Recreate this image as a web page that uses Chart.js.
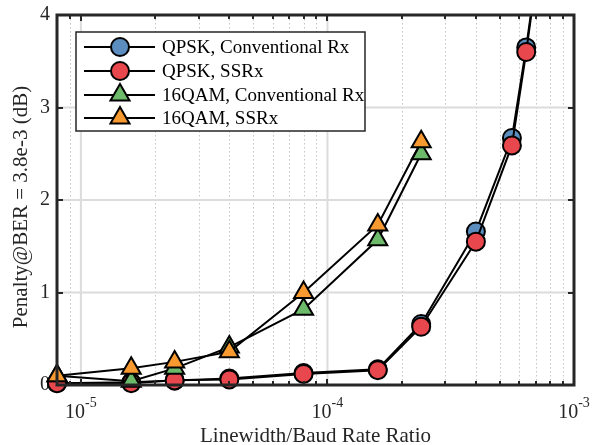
<!DOCTYPE html>
<html>
<head>
<meta charset="utf-8">
<script src="https://cdn.jsdelivr.net/npm/chart.js@4"></script>
<style>
  html, body { margin: 0; padding: 0; background: #fff; }
  #wrap { width: 601px; height: 445px; }
</style>
</head>
<body>
<div id="wrap"><canvas id="grafico" width="601" height="445"></canvas></div>
<script>
// linewidth / baud rate ratios for each modulation
var ratioQPSK = [8e-6, 1.6e-5, 2.4e-5, 4e-5, 8e-5, 1.6e-4, 2.4e-4, 4e-4, 5.6e-4, 6.4e-4, 8e-4];
var ratio16QAM = [8e-6, 1.6e-5, 2.4e-5, 4e-5, 8e-5, 1.6e-4, 2.4e-4];

// penalty at BER = 3.8e-3, dB
var qpskConv = [0.02, 0.03, 0.05, 0.07, 0.13, 0.17, 0.66, 1.66, 2.67, 3.65, 5.5];
var qpskSsrx = [0.02, 0.02, 0.05, 0.06, 0.12, 0.16, 0.63, 1.55, 2.59, 3.60, 5.5];
var qam16Conv = [0.10, 0.04, 0.18, 0.41, 0.82, 1.57, 2.50];
var qam16Ssrx = [0.10, 0.18, 0.25, 0.36, 1.00, 1.73, 2.63];

var seriesLabels = ["QPSK, Conventional Rx", "QPSK, SSRx", "16QAM, Conventional Rx", "16QAM, SSRx"];
var yTicks = [0, 1, 2, 3, 4];
var xDecades = [1e-5, 1e-4, 1e-3];
var xDecadeExp = ["-5", "-4", "-3"];

var serif = '"Liberation Serif", "Times New Roman", serif';
var ink = "#262626";

function pts(xs, ys) {
  return xs.map(function (x, i) { return { x: x, y: ys[i] }; });
}

function makeSet(label, xs, ys, fill, shape, order) {
  return {
    label: label,
    data: pts(xs, ys),
    borderColor: "#000",
    borderWidth: 2,
    pointStyle: shape,
    pointRadius: shape === "circle" ? 9 : 11,
    pointBackgroundColor: fill,
    pointBorderColor: "#000",
    pointBorderWidth: 2,
    tension: 0,
    order: order,
    clip: { left: 15, top: 0, right: 0, bottom: 15 }
  };
}

// minor/major positions of a log axis
function logGrid(min, max) {
  var out = [];
  for (var e = -7; e <= -2; e++) {
    for (var m = 1; m <= 9; m++) {
      var v = m * Math.pow(10, e);
      if (v > min * 1.0001 && v < max * 0.9999) out.push({ v: v, major: m === 1 });
    }
  }
  return out;
}

function seg(ctx, x1, y1, x2, y2) {
  ctx.beginPath(); ctx.moveTo(x1, y1); ctx.lineTo(x2, y2); ctx.stroke();
}

var axesPlugin = {
  id: "axesFrame",
  beforeDatasetsDraw: function (chart) {
    var ctx = chart.ctx, a = chart.chartArea, xs = chart.scales.x, ys = chart.scales.y;
    ctx.save();

    // dotted minor grid
    ctx.lineWidth = 1;
    ctx.strokeStyle = "#c4c4c4";
    ctx.setLineDash([1.5, 2.5]);
    logGrid(xs.min, xs.max).forEach(function (t) {
      if (t.major) return;
      var px = Math.round(xs.getPixelForValue(t.v)) + 0.5;
      seg(ctx, px, a.top, px, a.bottom);
    });
    ctx.setLineDash([]);

    // solid major grid
    ctx.strokeStyle = "#dcdcdc";
    ctx.lineWidth = 2;
    xDecades.forEach(function (v) {
      var px = xs.getPixelForValue(v);
      if (px > a.left + 2 && px < a.right - 2) seg(ctx, px, a.top, px, a.bottom);
    });
    yTicks.forEach(function (v) {
      var py = ys.getPixelForValue(v);
      if (py > a.top + 2 && py < a.bottom - 2) seg(ctx, a.left, py, a.right, py);
    });

    // tick labels
    ctx.fillStyle = ink;
    ctx.font = "20px " + serif;
    ctx.textAlign = "right";
    ctx.textBaseline = "middle";
    yTicks.forEach(function (v) {
      ctx.fillText(String(v), a.left - 7, ys.getPixelForValue(v));
    });

    ctx.textBaseline = "alphabetic";
    ctx.textAlign = "left";
    xDecades.forEach(function (v, i) {
      var px = xs.getPixelForValue(v);
      ctx.font = "20px " + serif;
      var wBase = ctx.measureText("10").width;
      ctx.font = "14px " + serif;
      var wExp = ctx.measureText(xDecadeExp[i]).width;
      var x0 = px - (wBase + wExp) / 2;
      ctx.font = "20px " + serif;
      ctx.fillText("10", x0, a.bottom + 33);
      ctx.font = "14px " + serif;
      ctx.fillText(xDecadeExp[i], x0 + wBase, a.bottom + 22);
    });

    // axis titles
    ctx.font = "21px " + serif;
    ctx.textAlign = "center";
    ctx.fillText("Linewidth/Baud Rate Ratio", (a.left + a.right) / 2, 442);
    ctx.save();
    ctx.translate(21, (a.top + a.bottom) / 2 + 7);
    ctx.rotate(-Math.PI / 2);
    ctx.textBaseline = "middle";
    ctx.fillText("Penalty@BER = 3.8e-3 (dB)", 0, 0);
    ctx.restore();

    ctx.restore();
  },
  afterDatasetsDraw: function (chart) {
    var ctx = chart.ctx, a = chart.chartArea, xs = chart.scales.x, ys = chart.scales.y;
    ctx.save();
    ctx.strokeStyle = ink;

    // inside ticks on all four sides
    ctx.lineWidth = 2;
    logGrid(xs.min, xs.max).forEach(function (t) {
      var px = Math.round(xs.getPixelForValue(t.v));
      var len = t.major ? 6 : 4;
      seg(ctx, px, a.bottom, px, a.bottom - len);
      seg(ctx, px, a.top, px, a.top + len);
    });
    yTicks.forEach(function (v) {
      var py = Math.round(ys.getPixelForValue(v));
      seg(ctx, a.left, py, a.left + 6, py);
      seg(ctx, a.right, py, a.right - 6, py);
    });

    // box
    ctx.lineWidth = 3;
    ctx.strokeRect(a.left, a.top, a.right - a.left, a.bottom - a.top);
    ctx.restore();
  }
};

var legendPlugin = {
  id: "boxLegend",
  afterDraw: function (chart) {
    var ctx = chart.ctx;
    var sets = chart.data.datasets;
    var left = 76, top = 32, right = 365, bottom = 131;
    var rowY = [47, 71, 95, 118];
    ctx.save();
    ctx.fillStyle = "#fff";
    ctx.fillRect(left, top, right - left, bottom - top);
    ctx.lineWidth = 1.5;
    ctx.strokeStyle = ink;
    ctx.strokeRect(left, top, right - left, bottom - top);

    sets.forEach(function (ds, i) {
      var y = rowY[i];
      ctx.strokeStyle = "#000";
      ctx.lineWidth = 2;
      seg(ctx, 84, y, 155, y);
      ctx.fillStyle = ds.pointBackgroundColor;
      ctx.strokeStyle = "#000";
      ctx.lineWidth = ds.pointBorderWidth;
      Chart.helpers.drawPoint(ctx, { pointStyle: ds.pointStyle, radius: ds.pointRadius, rotation: 0, borderWidth: ds.pointBorderWidth }, 120, y);
      ctx.fillStyle = "#000";
      ctx.font = "19px " + serif;
      ctx.textAlign = "left";
      ctx.textBaseline = "middle";
      ctx.fillText(ds.label, 162, y + 1);
    });
    ctx.restore();
  }
};

var config = {
  type: "line",
  data: {
    datasets: [
      makeSet(seriesLabels[0], ratioQPSK, qpskConv, "#5b8dbf", "circle", 4),
      makeSet(seriesLabels[1], ratioQPSK, qpskSsrx, "#e8484d", "circle", 3),
      makeSet(seriesLabels[2], ratio16QAM, qam16Conv, "#6dbb6a", "triangle", 2),
      makeSet(seriesLabels[3], ratio16QAM, qam16Ssrx, "#f89a30", "triangle", 1)
    ]
  },
  options: {
    responsive: false,
    animation: false,
    devicePixelRatio: 1,
    layout: { padding: { left: 0, top: 15, right: 27, bottom: 0 } },
    plugins: { legend: { display: false }, tooltip: { enabled: false } },
    scales: {
      x: {
        type: "logarithmic",
        min: 8e-6,
        max: 1e-3,
        grid: { display: false },
        border: { display: false },
        ticks: { display: false },
        afterFit: function (s) { s.height = 60; }
      },
      y: {
        type: "linear",
        min: 0,
        max: 4,
        grid: { display: false },
        border: { display: false },
        ticks: { display: false },
        afterFit: function (s) { s.width = 57; }
      }
    }
  },
  plugins: [axesPlugin, legendPlugin]
};

var grafico = new Chart(document.getElementById("grafico"), config);
</script>
</body>
</html>
